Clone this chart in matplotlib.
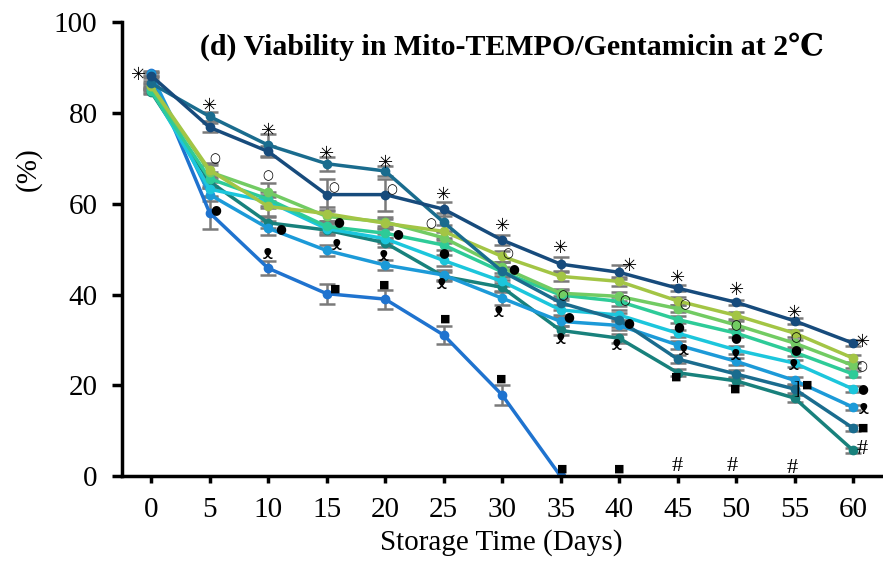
import matplotlib
matplotlib.use("Agg")
import matplotlib.pyplot as plt

plt.rcParams['font.family'] = ['Liberation Serif', 'DejaVu Serif', 'DejaVu Sans']

days = [0, 5, 10, 15, 20, 25, 30, 35, 40, 45, 50, 55, 60]

# viability (%) per group
navy = [88.2, 76.8, 71.5, 62, 62, 58.8, 52, 46.7, 44.9, 41.4, 38.3, 34.2, 29.3]
teal_blue = [86.5, 79.2, 72.9, 68.8, 67.2, 55.9, 45.1, 38.2, 34.4, 25.8, 22.5, 19.2, 10.6]
yellow_green = [86, 67.4, 59.4, 57.8, 55.7, 53.9, 48.4, 44, 42.9, 38.6, 35.4, 31.5, 26]
green = [85.8, 67, 62.5, 57.2, 56, 52.5, 46, 40.3, 39.6, 36.9, 33.3, 29.3, 24.4]
mint = [84.8, 65.5, 61, 55, 53.5, 50.9, 45, 39.9, 38.5, 34.5, 31.5, 27.3, 22.5]
cyan = [85.2, 63.2, 60.5, 54.5, 52.3, 47.5, 42.9, 36.6, 35.5, 31.5, 27.8, 24.9, 19.2]
light_blue = [88.5, 62, 54.6, 49.7, 46.5, 44.3, 39.2, 34.1, 33.2, 28.9, 25.3, 21.1, 15.2]
dark_teal = [84.6, 64.9, 55.8, 54.2, 51.4, 44, 41.6, 32.1, 30.4, 22.8, 21, 17.2, 5.7]
blue_days = [0, 5, 10, 15, 20, 25, 30, 35]
blue = [88.7, 58, 45.8, 40.2, 39, 31.1, 17.9, 0]

# standard deviations
navy_err = [0.5, 1, 1.2, 3.5, 3.5, 1.5, 1.2, 1.5, 1.5, 0.6, 0.6, 0.6, 0.6]
teal_blue_err = [0.5, 1, 2.5, 1.5, 1, 2, 2, 1.5, 1.5, 0.8, 0.8, 0.8, 0.6]
yellow_green_err = [0.5, 1.5, 2, 1.5, 1, 1.5, 1.2, 1, 1, 0.8, 0.8, 0.8, 0.8]
green_err = [0.5, 1.5, 2, 1.5, 1, 1.2, 1.2, 1, 1, 0.8, 0.8, 0.8, 0.6]
mint_err = [0.5, 1.5, 1.5, 1.2, 1, 1.2, 1, 1, 1, 0.8, 0.8, 0.8, 0.6]
cyan_err = [0.5, 1.5, 1.5, 1.2, 1, 1.2, 1, 1, 1, 0.8, 0.8, 0.8, 0.6]
light_blue_err = [0.5, 1.5, 1.5, 1.2, 1, 1, 1.5, 1, 1, 0.8, 0.8, 0.8, 0.6]
dark_teal_err = [0.5, 1.5, 1.2, 1, 1, 1, 1, 1, 1, 0.8, 0.8, 0.8, 0.6]
blue_err = [0.5, 3.5, 1.5, 2.2, 2.1, 2, 2.3, 0]

series = [
    (dark_teal, dark_teal_err, '#18817c'),
    (light_blue, light_blue_err, '#1c9ad8'),
    (cyan, cyan_err, '#1cc6dc'),
    (mint, mint_err, '#2ecb98'),
    (green, green_err, '#72cb63'),
    (yellow_green, yellow_green_err, '#a3c545'),
    (teal_blue, teal_blue_err, '#1a6c8e'),
    (navy, navy_err, '#174b7c'),
]

# significance symbols
ann_x = [-1.1, 5, 10, 15, 20, 25, 30, 35, 40.9, 45, 50, 55, 60.8,
         5.4, 10, 15.6, 20.6, 23.9, 30.5, 35.2, 40.5, 45.6, 50, 55.1, 60.7,
         5.5, 11.1, 16, 21.1, 25, 31, 35.7, 40.8, 45.1, 50, 55.1, 60.8,
         10, 15.9, 19.9, 24.8, 29.7, 35, 39.8, 45.5, 50, 54.9, 60.9,
         15.7, 19.9, 25.1, 29.9, 35.1, 40, 44.9, 49.9, 56.1, 60.9,
         45, 49.7, 54.8, 60.8]
ann_y = [88.3, 81.5, 76, 71, 69, 62, 55, 50.3, 46.3, 43.7, 41, 36, 29.6,
         69.9, 66.1, 63.6, 63, 55.5, 49.1, 39.8, 38.7, 37.7, 33.1, 30.5, 24.2,
         58.8, 54.5, 56, 53.4, 49.2, 45.8, 35.2, 33.9, 33, 30.6, 28, 19.4,
         49, 51, 48.7, 42.4, 36.3, 30.4, 28.9, 27.8, 26.8, 24.5, 15,
         41.2, 42.1, 34.8, 21.6, 1.6, 1.6, 22, 19.2, 20.1, 10.6,
         2.2, 2.2, 1.8, 6]
ann_sym = ['✳'] * 13 + ['○'] * 12 + ['●'] * 12 + ['ᴥ'] * 11 + ['■'] * 10 + ['#'] * 4

fig = plt.figure(figsize=(8.83, 5.63), dpi=100)
ax = fig.add_axes([0.138, 0.154, 0.860, 0.807])

for vals, err, col in series:
    ax.errorbar(days, vals, yerr=err, fmt='none', ecolor='#7a7a7a',
                elinewidth=1.8, capsize=5.5, capthick=1.8, zorder=1)
ax.errorbar(blue_days, blue, yerr=blue_err, fmt='none', ecolor='#7a7a7a',
            elinewidth=1.8, capsize=5.5, capthick=1.8, zorder=1)

ax.plot(blue_days, blue, color='#1f73cf', linewidth=2.5, marker='o',
        markersize=6, zorder=2)
for vals, err, col in series:
    ax.plot(days, vals, color=col, linewidth=2.5, marker='o',
            markersize=6, zorder=2)

sym_size = {'✳': 13, '○': 9, '●': 9, 'ᴥ': 14, '■': 8, '#': 16}
for x, y, s in zip(ann_x, ann_y, ann_sym):
    if s == '#':
        fam = ['Liberation Serif']
    else:
        fam = ['DejaVu Sans', 'Noto Sans', 'DejaVu Serif']
    ax.text(x, y, s, ha='center', va='center', fontsize=sym_size[s],
            family=fam, fontweight='bold' if s == '✳' else 'normal',
            zorder=3)
ax.text(55.2, 19, ']', ha='center', va='center', fontsize=14, zorder=3)

ax.text(30.8, 94.5, '(d) Viability in Mito-TEMPO/Gentamicin at 2℃',
        ha='center', va='center', fontsize=21.5, fontweight='bold',
        family=['Liberation Serif', 'DejaVu Serif'])

ax.set_xlim(-2.5, 62.4)
ax.set_ylim(0, 100)
ax.set_xticks(days)
ax.set_yticks([0, 20, 40, 60, 80, 100])
ax.tick_params(axis='y', labelsize=21, length=7, width=2.5, pad=10.5,
               direction='out')
ax.tick_params(axis='x', labelsize=21, length=5, width=2.5, pad=10,
               direction='out')
ax.set_xlabel('Storage Time (Days)', fontsize=21, labelpad=4)
ax.set_ylabel('(%)', fontsize=21)
ax.yaxis.set_label_coords(-0.105, 0.677)

for side in ['top', 'right']:
    ax.spines[side].set_visible(False)
for side in ['left', 'bottom']:
    ax.spines[side].set_linewidth(2.5)

fig.savefig('out.png', dpi=100)
